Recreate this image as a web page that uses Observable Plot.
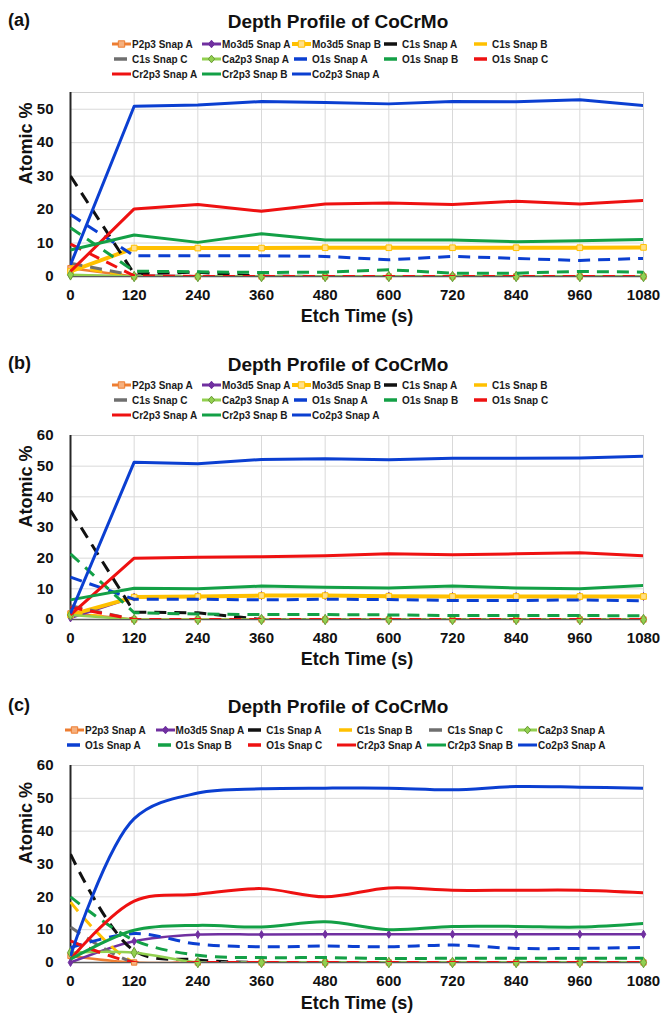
<!DOCTYPE html>
<html><head><meta charset="utf-8">
<script src="https://cdn.jsdelivr.net/npm/d3@7"></script>
<script src="https://cdn.jsdelivr.net/npm/@observablehq/plot@0.6"></script>
<style>
body{margin:0;background:#fff;font-family:"Liberation Sans",Arial,sans-serif;}
#page{position:relative;width:664px;height:1013px;overflow:hidden;background:#fff;}
.tag{position:absolute;left:8px;font-weight:bold;font-size:18px;line-height:20px;color:#111;}
.title{position:absolute;left:0;width:676px;text-align:center;font-weight:bold;font-size:19px;line-height:20px;color:#111;}
.leg{position:absolute;display:flex;align-items:center;height:14px;font-size:10px;font-weight:bold;color:#1a1a1a;white-space:nowrap;}
.leg svg{margin-right:1px;flex:none;}
.plotbox{position:absolute;left:0;}
</style></head><body><div id="page"></div>
<script>
// ---------- data ----------
const times = [0, 120, 240, 360, 480, 600, 720, 840, 960, 1080];
const yTicksA = [0, 10, 20, 30, 40, 50];
const yTicksBC = [0, 10, 20, 30, 40, 50, 60];

const seriesAB = ["P2p3 Snap A","Mo3d5 Snap A","Mo3d5 Snap B","C1s Snap A","C1s Snap B",
  "C1s Snap C","Ca2p3 Snap A","O1s Snap A","O1s Snap B","O1s Snap C",
  "Cr2p3 Snap A","Cr2p3 Snap B","Co2p3 Snap A"];
const seriesC = ["P2p3 Snap A","Mo3d5 Snap A","C1s Snap A","C1s Snap B","C1s Snap C","Ca2p3 Snap A",
  "O1s Snap A","O1s Snap B","O1s Snap C","Cr2p3 Snap A","Cr2p3 Snap B","Co2p3 Snap A"];

// panel (a), one row per series in seriesAB order
const valuesA = [
  [2.5, 0, 0, 0, 0, 0, 0, 0, 0, 0],
  [0.3, 0, 0, 0, 0, 0, 0, 0, 0, 0],
  [1.5, 8.5, 8.5, 8.5, 8.6, 8.6, 8.6, 8.6, 8.6, 8.7],
  [30, 0.8, 1.3, 0.1, 0, 0, 0, 0, 0, 0],
  [3, 0, 0, 0, 0, 0, 0, 0, 0, 0],
  [4, 0.3, 0, 0, 0, 0, 0, 0, 0, 0],
  [0.5, 0, 0, 0, 0, 0, 0, 0, 0, 0],
  [18.5, 6.2, 6.2, 6.2, 6.0, 5.0, 6.0, 5.4, 4.8, 5.4],
  [14.6, 1.6, 1.4, 1.2, 1.3, 2.0, 1.0, 1.0, 1.5, 1.3],
  [9.7, 0.2, 0, 0, 0, 0, 0, 0, 0, 0],
  [1.5, 20.2, 21.5, 19.5, 21.7, 22.0, 21.5, 22.5, 21.7, 22.7],
  [7.9, 12.4, 10.2, 12.8, 10.9, 10.9, 10.9, 10.4, 10.7, 11.1],
  [3.5, 50.9, 51.3, 52.3, 52.0, 51.6, 52.3, 52.2, 52.8, 51.1]
];
// panel (b), seriesAB order
const valuesB = [
  [2, 0, 0, 0, 0, 0, 0, 0, 0, 0],
  [0.5, 7.3, 7.5, 7.8, 7.8, 7.6, 7.5, 7.5, 7.5, 7.5],
  [1.5, 7.3, 7.5, 7.8, 7.8, 7.6, 7.5, 7.5, 7.5, 7.5],
  [35.5, 2.4, 2.2, 0, 0, 0, 0, 0, 0, 0],
  [2, 0, 0, 0, 0, 0, 0, 0, 0, 0],
  [4.5, 0, 0, 0, 0, 0, 0, 0, 0, 0],
  [1.5, 0, 0, 0, 0, 0, 0, 0, 0, 0],
  [13.8, 6.6, 6.6, 6.4, 6.6, 6.5, 6.2, 6.2, 6.4, 6.1],
  [21.4, 2.2, 1.8, 1.6, 1.6, 1.5, 1.3, 1.3, 1.3, 1.2],
  [4, 0, 0, 0, 0, 0, 0, 0, 0, 0],
  [1.5, 20.0, 20.3, 20.5, 20.8, 21.4, 21.1, 21.4, 21.8, 20.8],
  [6.4, 10.2, 10.0, 10.9, 10.5, 10.3, 10.9, 10.3, 10.0, 11.1],
  [2, 51.3, 50.8, 52.2, 52.4, 52.1, 52.6, 52.6, 52.7, 53.2]
];
// panel (c), seriesC order
const valuesC = [
  [2, 0, 0, 0, 0, 0, 0, 0, 0, 0],
  [0, 6.5, 8.5, 8.5, 8.6, 8.6, 8.6, 8.6, 8.6, 8.6],
  [33, 3.6, 0.8, 0, 0, 0, 0, 0, 0, 0],
  [18.4, 0, 0, 0, 0, 0, 0, 0, 0, 0],
  [10.8, 0, 0, 0, 0, 0, 0, 0, 0, 0],
  [3, 3, 0, 0, 0, 0, 0, 0, 0, 0],
  [4.5, 8.8, 5.6, 4.8, 5.0, 4.8, 5.3, 4.3, 4.3, 4.6],
  [20, 6.8, 2.2, 1.5, 1.5, 1.2, 1.3, 1.3, 1.3, 1.3],
  [6.6, 0, 0, 0, 0, 0, 0, 0, 0, 0],
  [1, 18.7, 20.8, 22.5, 20.0, 22.7, 22.0, 22.0, 22.0, 21.2],
  [1, 9.8, 11.3, 10.8, 12.4, 10.0, 11.0, 11.0, 10.8, 11.9],
  [2, 43.8, 51.6, 52.9, 53.1, 53.1, 52.6, 53.6, 53.4, 53.1]
];

// ---------- styles ----------
const DASH = "12,8";
const BLUE = "#0b3fd1", RED = "#ee1111", GREEN = "#13a046", GOLD = "#ffc000";
const styles = {
  "P2p3 Snap A":  {color: "#ed7d31", width: 2.5, symbol: "square", r: 3, fill: "#f6b07e"},
  "Mo3d5 Snap A": {color: "#7030a0", width: 2.5, symbol: "diamond", r: 2.4, fill: "#7030a0"},
  "Mo3d5 Snap B": {color: GOLD, width: 4, symbol: "square", r: 3.2, fill: "#ffe08a"},
  "C1s Snap A":   {color: "#111111", width: 3, dash: DASH},
  "C1s Snap B":   {color: GOLD, width: 3, dash: DASH},
  "C1s Snap C":   {color: "#6f6f6f", width: 3, dash: DASH},
  "Ca2p3 Snap A": {color: "#92d050", width: 2.5, symbol: "diamond", r: 3.2, fill: "#92d050", mstroke: "#6b9b37"},
  "O1s Snap A":   {color: BLUE, width: 3, dash: DASH},
  "O1s Snap B":   {color: GREEN, width: 3, dash: DASH},
  "O1s Snap C":   {color: RED, width: 3, dash: DASH},
  "Cr2p3 Snap A": {color: RED, width: 3},
  "Cr2p3 Snap B": {color: GREEN, width: 3},
  "Co2p3 Snap A": {color: BLUE, width: 3}
};

const panels = [
  {tag: "(a)", titleY: 22, rows: [44, 59, 74], legX: 112, colW: 90, ncols: 5,
   series: seriesAB, values: valuesA, yMax: 55, yTicks: yTicksA,
   svgTop: 80, height: 250, marginTop: 12, marginBottom: 54, curve: "linear", xlabDy: 40},
  {tag: "(b)", titleY: 365, rows: [385, 400, 415], legX: 112, colW: 90, ncols: 5,
   series: seriesAB, values: valuesB, yMax: 60, yTicks: yTicksBC,
   svgTop: 425, height: 250, marginTop: 10, marginBottom: 56, curve: "linear", xlabDy: 40},
  {tag: "(c)", titleY: 707, rows: [730, 745], legX: 65, colW: 90.6, ncols: 6,
   series: seriesC, values: valuesC, yMax: 60, yTicks: yTicksBC,
   svgTop: 750, height: 263, marginTop: 15, marginBottom: 51, curve: "catmull-rom", xlabDy: 41}
];

const page = document.getElementById("page");
const NS = "http://www.w3.org/2000/svg";

function swatch(st) {
  const svg = document.createElementNS(NS, "svg");
  svg.setAttribute("width", 19); svg.setAttribute("height", 12);
  const ln = document.createElementNS(NS, "line");
  const dashed = !!st.dash;
  ln.setAttribute("x1", dashed ? 2 : 0); ln.setAttribute("x2", dashed ? 15 : 19);
  ln.setAttribute("y1", 6); ln.setAttribute("y2", 6);
  ln.setAttribute("stroke", st.color);
  ln.setAttribute("stroke-width", dashed ? 3.5 : Math.max(3, st.width));
  svg.appendChild(ln);
  if (st.symbol) {
    const m = document.createElementNS(NS, "path");
    const s = 3.2;
    m.setAttribute("d", st.symbol === "square"
      ? `M${9.5 - s},${6 - s}h${2 * s}v${2 * s}h${-2 * s}z`
      : `M9.5,${6 - s - 0.6}L${9.5 + s},6L9.5,${6 + s + 0.6}L${9.5 - s},6z`);
    m.setAttribute("fill", st.fill);
    m.setAttribute("stroke", st.mstroke || st.color);
    m.setAttribute("stroke-width", 1);
    svg.appendChild(m);
  }
  return svg;
}

for (const p of panels) {
  const tag = document.createElement("div");
  tag.className = "tag"; tag.textContent = p.tag; tag.style.top = (p.titleY - 12) + "px";
  page.appendChild(tag);
  const title = document.createElement("div");
  title.className = "title"; title.textContent = "Depth Profile of CoCrMo"; title.style.top = (p.titleY - 10) + "px";
  page.appendChild(title);

  p.series.forEach((name, i) => {
    const col = i % p.ncols, row = Math.floor(i / p.ncols);
    const item = document.createElement("div");
    item.className = "leg";
    item.style.left = (p.legX + col * p.colW) + "px";
    item.style.top = (p.rows[row] - 7) + "px";
    item.appendChild(swatch(styles[name]));
    const t = document.createElement("span"); t.textContent = name;
    item.appendChild(t);
    page.appendChild(item);
  });

  const marks = [
    Plot.ruleX(times, {stroke: "#d9d9d9", strokeWidth: 1}),
    Plot.ruleY(p.yTicks, {stroke: "#d9d9d9", strokeWidth: 1}),
    Plot.frame({stroke: "#d0d0d0"}),
    Plot.ruleY([0], {stroke: "#5a5a5a", strokeWidth: 1.5}),
    Plot.ruleX([0], {stroke: "#262626", strokeWidth: 2})
  ];
  p.series.forEach((name, si) => {
    const st = styles[name];
    const d = times.map((t, ti) => ({t, v: p.values[si][ti]}));
    marks.push(Plot.line(d, {x: "t", y: "v", stroke: st.color, strokeWidth: st.width,
      strokeDasharray: st.dash, strokeLinecap: "butt", strokeLinejoin: "round",
      curve: p.curve, clip: true}));
    if (st.symbol) marks.push(Plot.dot(d, {x: "t", y: "v", symbol: st.symbol, r: st.r,
      fill: st.fill, stroke: st.mstroke || st.color, strokeWidth: 1}));
  });
  marks.push(Plot.text(["Etch Time (s)"], {text: d => d, frameAnchor: "bottom", lineAnchor: "middle",
    dy: p.xlabDy, fontSize: 18, fontWeight: "bold", fill: "#111"}));
  marks.push(Plot.text(["Atomic %"], {text: d => d, frameAnchor: "left", lineAnchor: "middle",
    dx: -44, rotate: -90, fontSize: 18, fontWeight: "bold", fill: "#111"}));

  const chart = Plot.plot({
    width: 664, height: p.height,
    marginLeft: 70, marginRight: 21, marginTop: p.marginTop, marginBottom: p.marginBottom,
    style: {fontFamily: "'Liberation Sans', Arial, sans-serif", fontSize: "15px", fontWeight: "bold", color: "#111", background: "transparent", overflow: "visible"},
    x: {domain: [0, 1080], ticks: times, tickFormat: d => String(d), tickSize: 0, tickPadding: 13, label: null},
    y: {domain: [0, p.yMax], ticks: p.yTicks, tickFormat: d => String(d), tickSize: 0, tickPadding: 17, label: null},
    marks
  });
  const box = document.createElement("div");
  box.className = "plotbox"; box.style.top = p.svgTop + "px";
  box.appendChild(chart);
  page.appendChild(box);
}
</script>
</body></html>
